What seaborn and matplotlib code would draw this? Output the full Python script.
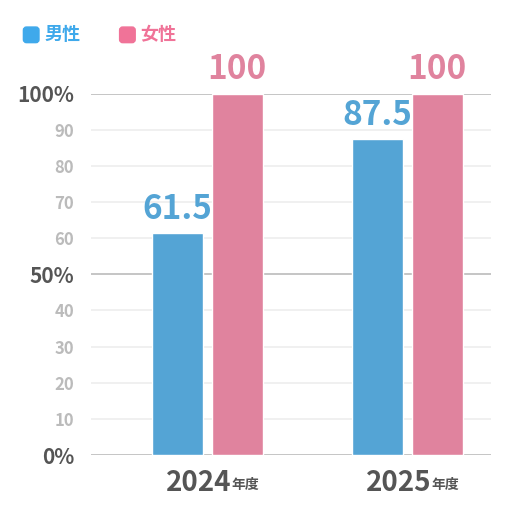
import matplotlib.pyplot as plt
import seaborn as sns
import pandas as pd
from matplotlib.patches import FancyBboxPatch

years = ['2024年度', '2025年度']
groups = ['男性', '女性']
male = [61.5, 87.5]
female = [100, 100]
colors = ['#3fa9eb', '#f07398']

df = pd.DataFrame({
    'year': years * 2,
    'group': [groups[0]] * 2 + [groups[1]] * 2,
    'value': male + female,
})

sns.set_theme(style='white')
plt.rcParams['font.family'] = ['Noto Sans CJK JP', 'DejaVu Sans']

fig = plt.figure(figsize=(5.2, 5.2), dpi=100)
ax = fig.add_axes([0.175, 0.125, 0.77, 0.695])
sns.barplot(data=df, x='year', y='value', hue='group', palette=colors,
            width=0.6, gap=0.15, ax=ax, legend=False, zorder=3)
ax.set_ylim(0, 100)
ax.set_xlim(-0.58, 1.42)
for y in range(0, 101, 10):
    c = '#bbbbbb' if y in (0, 50, 100) else '#eeeeee'
    ax.axhline(y, color=c, lw=1.2, zorder=1)
ax.set_yticks(range(0, 101, 10))
labs = []
for y in range(0, 101, 10):
    labs.append(f'{y}%' if y in (0, 50, 100) else str(y))
ax.set_yticklabels(labs)
for t, y in zip(ax.get_yticklabels(), range(0, 101, 10)):
    big = y in (0, 50, 100)
    t.set_color('#555555' if big else '#bbbbbb')
    t.set_fontsize(15 if big else 12)
    t.set_fontweight('bold')
ax.tick_params(axis='y', length=0, pad=12)
ax.tick_params(axis='x', length=0, pad=6)
ax.set_xticklabels([])
for i, yr in enumerate(years):
    ax.text(i + 0.12, -4, yr[:4], ha='right', va='top',
            fontsize=20, fontweight='bold', color='#555555')
    ax.text(i + 0.12, -6.5, yr[4:], ha='left', va='top', fontsize=10,
            fontweight='bold', color='#555555')
ax.set_xlabel('')
ax.set_ylabel('')
sns.despine(ax=ax, left=True, bottom=True)

for bar, v in zip(ax.patches, male + female):
    c = bar.get_facecolor()
    ax.text(bar.get_x() + bar.get_width() / 2, v + 2, f'{v:g}', ha='center',
            va='bottom', fontsize=24, fontweight='bold', color=c)

for i, (g, c) in enumerate(zip(groups, colors)):
    x0 = 0.045 + i * 0.185
    fig.patches.append(FancyBboxPatch((x0, 0.918), 0.03, 0.03,
                                      boxstyle='round,pad=0,rounding_size=0.006',
                                      transform=fig.transFigure, color=c))
    fig.text(x0 + 0.04, 0.933, g, color=c, fontsize=13, fontweight='bold', va='center')

fig.savefig('out.png', dpi=100)
